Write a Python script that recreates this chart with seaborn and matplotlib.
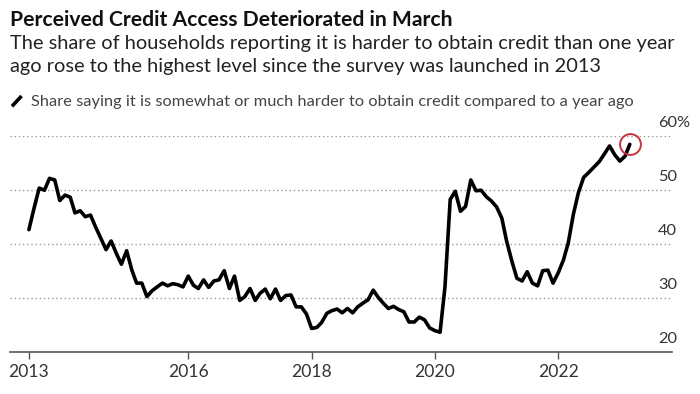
import numpy as np
import pandas as pd
import matplotlib
matplotlib.use("Agg")
import matplotlib.pyplot as plt
from matplotlib.transforms import ScaledTranslation
from matplotlib.lines import Line2D
import seaborn as sns

# Monthly share (%) saying credit is harder to obtain, June 2013 - March 2023
start_month = "2013-06-01"
share_2013 = [42.6, 46.5, 50.3, 49.9, 52.1, 51.8, 48.0]
share_2014 = [49.0, 48.6, 45.7, 46.1, 45.0, 45.3, 43.1, 41.0, 38.9, 40.5, 38.2, 36.2]
share_2015 = [38.7, 35.1, 32.7, 32.7, 30.2, 31.3, 32.0, 32.7, 32.2, 32.6, 32.4, 32.0]
share_2016 = [34.0, 32.3, 31.7, 33.3, 31.9, 33.1, 33.3, 35.0, 31.7, 34.0, 29.5, 30.2]
share_2017 = [31.7, 29.5, 30.8, 31.6, 29.8, 31.6, 29.5, 30.4, 30.5, 28.3, 28.3, 27.0]
share_2018 = [24.3, 24.5, 25.4, 27.1, 27.6, 27.9, 27.2, 28.0, 27.2, 28.3, 29.0, 29.6]
share_2019 = [31.4, 30.0, 29.0, 28.0, 28.4, 27.8, 27.4, 25.5, 25.5, 26.4, 25.9, 24.4]
share_2020 = [23.9, 23.6, 32.0, 48.2, 49.7, 46.0, 46.9, 51.8, 49.8, 49.9, 48.7, 47.9]
share_2021 = [46.8, 44.7, 40.5, 36.8, 33.6, 33.1, 34.8, 32.7, 32.2, 35.0, 35.1, 32.7]
share_2022 = [34.6, 37.0, 40.1, 45.5, 49.5, 52.3, 53.2, 54.2, 55.2, 56.6, 58.1, 56.5]
share_2023 = [55.3, 56.2, 58.4]

share = (share_2013 + share_2014 + share_2015 + share_2016 + share_2017 + share_2018
         + share_2019 + share_2020 + share_2021 + share_2022 + share_2023)
dates = pd.date_range(start_month, periods=len(share), freq="MS")
df = pd.DataFrame({"date": dates, "share": share})

x_ticks = pd.to_datetime(["2013-06-01", "2016-01-01", "2018-01-01", "2020-01-01", "2022-01-01"])
x_tick_labels = ["2013", "2016", "2018", "2020", "2022"]
y_ticks = [20, 30, 40, 50, 60]
y_tick_labels = ["20", "30", "40", "50", "60%"]

title = "Perceived Credit Access Deteriorated in March"
subtitle_lines = ["The share of households reporting it is harder to obtain credit than one year",
                  "ago rose to the highest level since the survey was launched in 2013"]
legend_label = "Share saying it is somewhat or much harder to obtain credit compared to a year ago"

sns.set_theme(style="white")
plt.rcParams["font.family"] = ["Lato", "DejaVu Sans"]

W, H = 700, 394
fig = plt.figure(figsize=(W / 100, H / 100), dpi=100)
ax = fig.add_axes([10 / W, 42.3 / H, 662 / W, 216 / H])

sns.lineplot(data=df, x="date", y="share", ax=ax, color="black", linewidth=2.6)

# circle round the latest reading
last = df.iloc[-1]
ax.plot(last["date"], last["share"], marker="o", markersize=15, markerfacecolor="none",
        markeredgecolor="#c8323f", markeredgewidth=1.4, clip_on=False)

ax.set_ylim(20, 60)
ax.set_xlim(pd.Timestamp("2016-01-01") - pd.Timedelta(days=1056),
            pd.Timestamp("2022-01-01") + pd.Timedelta(days=674))
ax.set_xlabel("")
ax.set_ylabel("")

for side in ["top", "left", "right"]:
    ax.spines[side].set_visible(False)
ax.spines["bottom"].set_color("#555555")
ax.spines["bottom"].set_linewidth(1.2)

ax.set_xticks(x_ticks)
ax.set_xticklabels(x_tick_labels)
ax.tick_params(axis="x", bottom=True, length=5, width=1, color="#555555",
               labelsize=12.6, labelcolor="#333333", pad=4)

ax.yaxis.tick_right()
ax.set_yticks(y_ticks)
ax.set_yticklabels(y_tick_labels)
ax.tick_params(axis="y", length=0, pad=-10, labelsize=11.8, labelcolor="#333333")
for lab in ax.get_yticklabels():
    lab.set_transform(lab.get_transform() + ScaledTranslation(0, 0.14, fig.dpi_scale_trans))

ax.yaxis.grid(True, linestyle=(0, (1, 2)), color="#9a9a9a", linewidth=1)
ax.xaxis.grid(False)

fig.text(10 / W, 1 - 26 / H, title, fontsize=15.2, fontweight="bold", color="#111111",
         va="baseline")
fig.text(10 / W, 1 - 49.3 / H, subtitle_lines[0], fontsize=14.4, color="#222222", va="baseline")
fig.text(10 / W, 1 - 72.3 / H, subtitle_lines[1], fontsize=14.4, color="#222222", va="baseline")

fig.add_artist(Line2D([12 / W, 21.5 / W], [1 - 106.3 / H, 1 - 96 / H], color="black",
                      linewidth=2.6, solid_capstyle="butt"))
fig.text(31 / W, 1 - 106 / H, legend_label, fontsize=11.8, color="#444444", va="baseline")

fig.savefig("out.png", dpi=100)
